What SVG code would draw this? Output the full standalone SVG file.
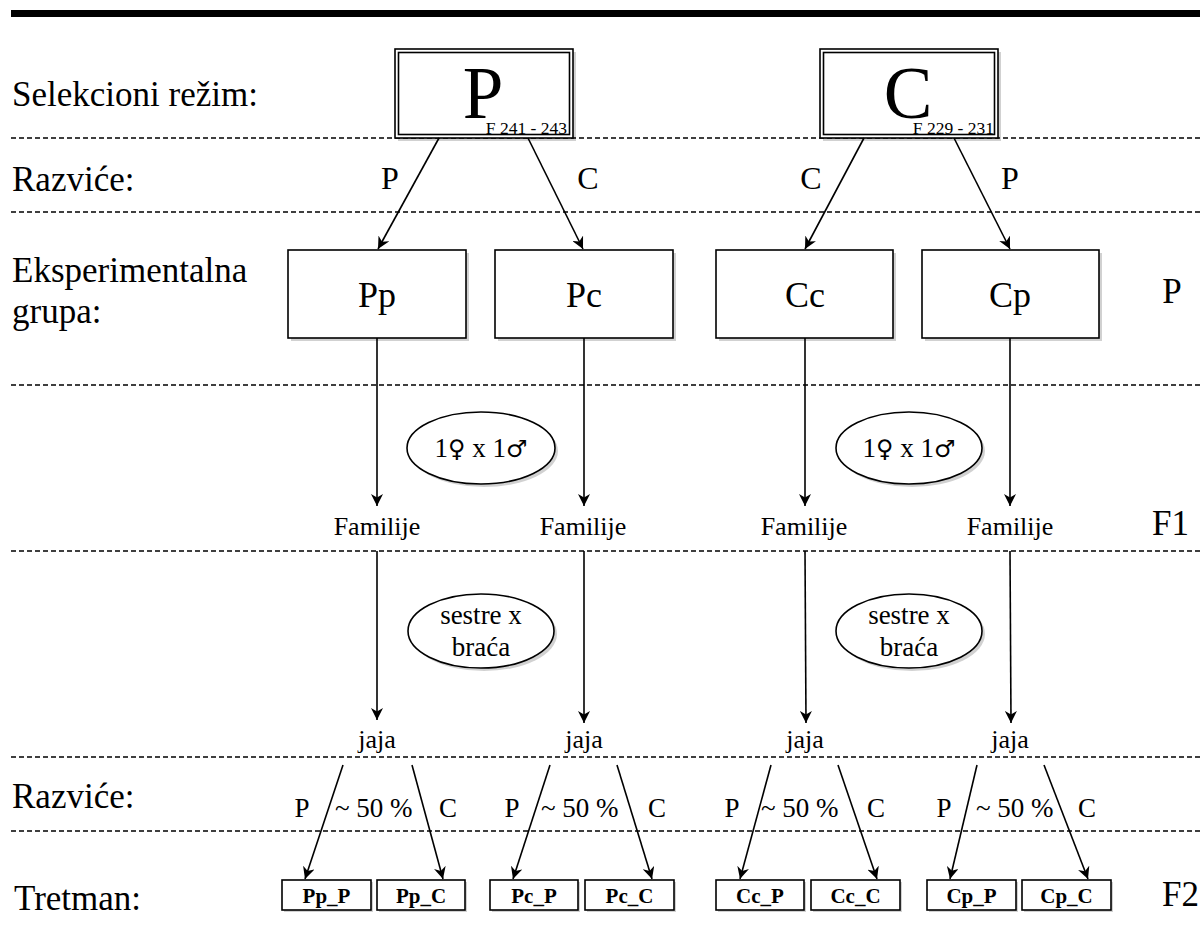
<svg xmlns="http://www.w3.org/2000/svg" width="1200" height="944" viewBox="0 0 1200 944" font-family="'Liberation Serif','Times New Roman','DejaVu Serif',serif">
<style>
text{font-family:"Liberation Serif","Times New Roman","DejaVu Serif",serif;fill:#000}
.lbl{font-size:35px}
.dash{stroke:#000;stroke-width:1.6;stroke-dasharray:5 3;fill:none}
.box{fill:#fff;stroke:#000;stroke-width:1.6}
.sh{fill:#000;opacity:0.18}
.c{stroke:#000;stroke-width:1.6;fill:none;marker-end:url(#ah)}
.mid{text-anchor:middle}
.t26{font-size:26px}
.t27{font-size:27px}
.sym{font-family:"DejaVu Sans",sans-serif;font-size:24px;font-weight:normal}
.small{font-size:21px;font-weight:bold;text-anchor:middle}
</style>
<defs>
<marker id="ah" viewBox="0 0 10 10" refX="10" refY="5" markerWidth="12" markerHeight="12" markerUnits="userSpaceOnUse" orient="auto">
<path d="M0,0 L10,5 L0,10 L3,5 z" fill="#000"/>
</marker>
</defs>
<rect x="0" y="0" width="1200" height="944" fill="#fff"/>
<rect x="11" y="10" width="1189" height="7" fill="#000"/>

<g id="guides">
<line class="dash" x1="11" y1="138" x2="1200" y2="138"/>
<line class="dash" x1="11" y1="212" x2="1200" y2="212"/>
<line class="dash" x1="11" y1="385" x2="1200" y2="385"/>
<line class="dash" x1="11" y1="551" x2="1200" y2="551"/>
<line class="dash" x1="11" y1="757" x2="1200" y2="757"/>
<line class="dash" x1="11" y1="831" x2="1200" y2="831"/>
</g>

<g id="row-labels">
<text class="lbl" x="12" y="106">Selekcioni režim:</text>
<text class="lbl" x="12" y="191">Razviće:</text>
<text class="lbl" x="12" y="282">Eksperimentalna</text>
<text class="lbl" x="12" y="323">grupa:</text>
<text class="lbl" x="12" y="808">Razviće:</text>
<text class="lbl" x="14" y="910">Tretman:</text>
<text class="lbl mid" x="1172" y="303">P</text>
<text class="lbl" x="1152" y="535">F1</text>
<text class="lbl" x="1162" y="906">F2</text>
</g>

<g id="node-P">
<rect class="sh" x="398" y="52" width="178" height="89"/>
<rect class="box" x="395" y="49" width="178" height="89"/>
<rect class="box" x="398.5" y="52.5" width="171" height="82"/>
<text class="mid" x="483" y="118" font-size="73">P</text>
<text x="567" y="134" font-size="17.5" text-anchor="end">F 241 - 243</text>
</g>
<g id="node-C">
<rect class="sh" x="823" y="52" width="178" height="89"/>
<rect class="box" x="820" y="49" width="178" height="89"/>
<rect class="box" x="823.5" y="52.5" width="171" height="82"/>
<text class="mid" x="908" y="118" font-size="73">C</text>
<text x="994" y="134" font-size="17.5" text-anchor="end">F 229 - 231</text>
</g>

<g id="dev-labels">
<text class="mid" x="390" y="189" font-size="32">P</text>
<text class="mid" x="588" y="189" font-size="32">C</text>
<text class="mid" x="811" y="189" font-size="32">C</text>
<text class="mid" x="1010" y="189" font-size="32">P</text>
</g>

<g id="node-Pp">
<rect class="sh" x="291" y="253" width="178" height="88"/>
<rect class="box" x="288" y="250" width="178" height="88"/>
<text class="mid" x="377" y="307" font-size="36">Pp</text>
</g>
<g id="node-Pc">
<rect class="sh" x="498" y="253" width="178" height="88"/>
<rect class="box" x="495" y="250" width="178" height="88"/>
<text class="mid" x="584" y="307" font-size="36">Pc</text>
</g>
<g id="node-Cc">
<rect class="sh" x="719" y="253" width="177" height="88"/>
<rect class="box" x="716" y="250" width="177" height="88"/>
<text class="mid" x="805" y="307" font-size="36">Cc</text>
</g>
<g id="node-Cp">
<rect class="sh" x="925" y="253" width="177" height="88"/>
<rect class="box" x="922" y="250" width="177" height="88"/>
<text class="mid" x="1010" y="307" font-size="36">Cp</text>
</g>

<g id="ellipse-cross-1">
<ellipse class="sh" cx="484" cy="451" rx="74" ry="36"/>
<ellipse class="box" cx="481" cy="448" rx="74" ry="36"/>
<text class="mid t27" x="481" y="457">1<tspan class="sym">♀</tspan> x 1<tspan class="sym">♂</tspan></text>
</g>
<g id="ellipse-cross-2">
<ellipse class="sh" cx="912" cy="451" rx="73" ry="36"/>
<ellipse class="box" cx="909" cy="448" rx="73" ry="36"/>
<text class="mid t27" x="909" y="457">1<tspan class="sym">♀</tspan> x 1<tspan class="sym">♂</tspan></text>
</g>
<g id="ellipse-sib-1">
<ellipse class="sh" cx="484" cy="634" rx="73" ry="37"/>
<ellipse class="box" cx="481" cy="631" rx="73" ry="37"/>
<text class="mid t27" x="481" y="624">sestre x</text>
<text class="mid t27" x="481" y="656">braća</text>
</g>
<g id="ellipse-sib-2">
<ellipse class="sh" cx="912" cy="634" rx="73" ry="37"/>
<ellipse class="box" cx="909" cy="631" rx="73" ry="37"/>
<text class="mid t27" x="909" y="624">sestre x</text>
<text class="mid t27" x="909" y="656">braća</text>
</g>

<g id="familije">
<text class="mid t26" x="377" y="535">Familije</text>
<text class="mid t26" x="583" y="535">Familije</text>
<text class="mid t26" x="804" y="535">Familije</text>
<text class="mid t26" x="1010" y="535">Familije</text>
</g>
<g id="jaja">
<text class="mid t26" x="377" y="748">jaja</text>
<text class="mid t26" x="584" y="748">jaja</text>
<text class="mid t26" x="805" y="748">jaja</text>
<text class="mid t26" x="1010" y="748">jaja</text>
</g>

<g id="split-labels">
<text class="mid t27" x="302" y="817">P</text>
<text class="t27" x="335" y="817">~ 50 %</text>
<text class="mid t27" x="448" y="817">C</text>
<text class="mid t27" x="512" y="817">P</text>
<text class="t27" x="541" y="817">~ 50 %</text>
<text class="mid t27" x="657" y="817">C</text>
<text class="mid t27" x="732" y="817">P</text>
<text class="t27" x="761" y="817">~ 50 %</text>
<text class="mid t27" x="876" y="817">C</text>
<text class="mid t27" x="944" y="817">P</text>
<text class="t27" x="976" y="817">~ 50 %</text>
<text class="mid t27" x="1087" y="817">C</text>
</g>

<g id="node-Pp_P"><rect class="sh" x="284" y="882" width="89" height="30"/><rect class="box" x="282" y="880" width="89" height="30"/><text class="small" x="326.5" y="903">Pp_P</text></g>
<g id="node-Pp_C"><rect class="sh" x="379" y="882" width="88" height="30"/><rect class="box" x="377" y="880" width="88" height="30"/><text class="small" x="421" y="903">Pp_C</text></g>
<g id="node-Pc_P"><rect class="sh" x="492" y="882" width="88" height="30"/><rect class="box" x="490" y="880" width="88" height="30"/><text class="small" x="534" y="903">Pc_P</text></g>
<g id="node-Pc_C"><rect class="sh" x="587" y="882" width="89" height="30"/><rect class="box" x="585" y="880" width="89" height="30"/><text class="small" x="629.5" y="903">Pc_C</text></g>
<g id="node-Cc_P"><rect class="sh" x="718" y="882" width="88" height="30"/><rect class="box" x="716" y="880" width="88" height="30"/><text class="small" x="760" y="903">Cc_P</text></g>
<g id="node-Cc_C"><rect class="sh" x="813" y="882" width="89" height="30"/><rect class="box" x="811" y="880" width="89" height="30"/><text class="small" x="855.5" y="903">Cc_C</text></g>
<g id="node-Cp_P"><rect class="sh" x="929" y="882" width="89" height="30"/><rect class="box" x="927" y="880" width="89" height="30"/><text class="small" x="971.5" y="903">Cp_P</text></g>
<g id="node-Cp_C"><rect class="sh" x="1024" y="882" width="89" height="30"/><rect class="box" x="1022" y="880" width="89" height="30"/><text class="small" x="1066.5" y="903">Cp_C</text></g>

<g id="connectors">
<line class="c" x1="439" y1="138" x2="378" y2="249"/>
<line class="c" x1="528" y1="138" x2="583" y2="249"/>
<line class="c" x1="864" y1="138" x2="805" y2="249"/>
<line class="c" x1="954" y1="138" x2="1010" y2="249"/>

<line class="c" x1="377" y1="338" x2="377" y2="506"/>
<line class="c" x1="584" y1="338" x2="584" y2="506"/>
<line class="c" x1="805" y1="338" x2="805" y2="506"/>
<line class="c" x1="1010" y1="338" x2="1010" y2="506"/>

<line class="c" x1="377" y1="551" x2="377" y2="720"/>
<line class="c" x1="584" y1="551" x2="584" y2="723"/>
<line class="c" x1="805" y1="551" x2="806" y2="723"/>
<line class="c" x1="1010" y1="551" x2="1011" y2="723"/>

<line class="c" x1="343" y1="765" x2="305" y2="879"/>
<line class="c" x1="412" y1="765" x2="443" y2="879"/>
<line class="c" x1="550" y1="765" x2="513" y2="879"/>
<line class="c" x1="617" y1="765" x2="652" y2="879"/>
<line class="c" x1="771" y1="765" x2="740" y2="879"/>
<line class="c" x1="838" y1="765" x2="877" y2="879"/>
<line class="c" x1="977" y1="765" x2="950" y2="879"/>
<line class="c" x1="1044" y1="765" x2="1088" y2="879"/>
</g>
</svg>
